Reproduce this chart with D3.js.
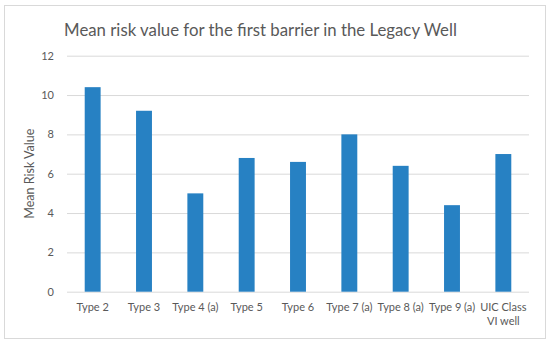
<!DOCTYPE html>
<meta charset="utf-8">
<html>
<head>
    <title>Mean risk value</title>
    <script src="https://cdn.jsdelivr.net/npm/d3@7"></script>
    <style>
        html, body { margin: 0; padding: 0; background: #fff; }
        text { font-family: Lato, "Open Sans", sans-serif; fill: #595959; }
    </style>
</head>
<body>
<svg id="chart"></svg>
<script>
// data
var categories = ["Type 2", "Type 3", "Type 4 (a)", "Type 5", "Type 6", "Type 7 (a)", "Type 8 (a)", "Type 9 (a)", "UIC Class VI well"];
var values = [10.4, 9.2, 5.0, 6.8, 6.6, 8.0, 6.4, 4.4, 7.0];
var yTicks = [0, 2, 4, 6, 8, 10, 12];

var width = 550, height = 344;
var margin = { top: 55.7, right: 21, bottom: 52.3, left: 67 };

var svg = d3.select('#chart').attr('width', width).attr('height', height);

// outer chart border
svg.append('rect')
    .attr('x', 4.5).attr('y', 5.5)
    .attr('width', 541).attr('height', 333)
    .attr('fill', '#fff').attr('stroke', '#d9d9d9');

svg.append('text')
    .attr('x', 260.5).attr('y', 36)
    .attr('text-anchor', 'middle')
    .style('font-size', '16.8px')
    .text('Mean risk value for the first barrier in the Legacy Well');

var x = d3.scaleBand()
    .domain(categories)
    .range([margin.left, width - margin.right])
    .paddingInner(0.69)
    .paddingOuter(0.345);

var y = d3.scaleLinear()
    .domain([0, 12])
    .range([height - margin.bottom, margin.top]);

// gridlines + y labels
var yAxis = svg.append('g')
    .attr('transform', 'translate(' + margin.left + ',0)')
    .call(d3.axisLeft(y).tickValues(yTicks).tickSize(-(width - margin.left - margin.right)).tickPadding(13));
yAxis.select('.domain').remove();
yAxis.selectAll('.tick line').attr('stroke', '#d9d9d9');
yAxis.selectAll('.tick text').style('font-size', '11px').style('font-family', null).attr('fill', null);

svg.append('g').selectAll('rect')
    .data(values)
    .enter().append('rect')
    .attr('x', function (d, i) { return x(categories[i]); })
    .attr('width', x.bandwidth())
    .attr('y', function (d) { return y(d); })
    .attr('height', function (d) { return y(0) - y(d); })
    .attr('fill', '#2781c3');

// x labels (wrap long one)
var xl = svg.append('g').selectAll('text')
    .data(categories)
    .enter().append('text')
    .attr('text-anchor', 'middle')
    .attr('y', 311)
    .style('font-size', '11px');
xl.each(function (d) {
    var cx = x(d) + x.bandwidth() / 2;
    var t = d3.select(this).attr('x', cx);
    var parts = d === "UIC Class VI well" ? ["UIC Class", "VI well"] : [d];
    parts.forEach(function (p, k) {
        t.append('tspan').attr('x', cx).attr('dy', k === 0 ? 0 : 14).text(p);
    });
});

svg.append('text')
    .attr('transform', 'translate(34,' + ((margin.top + height - margin.bottom) / 2) + ') rotate(-90)')
    .attr('text-anchor', 'middle')
    .style('font-size', '12.5px')
    .text('Mean Risk Value');
</script>
</body>
</html>
